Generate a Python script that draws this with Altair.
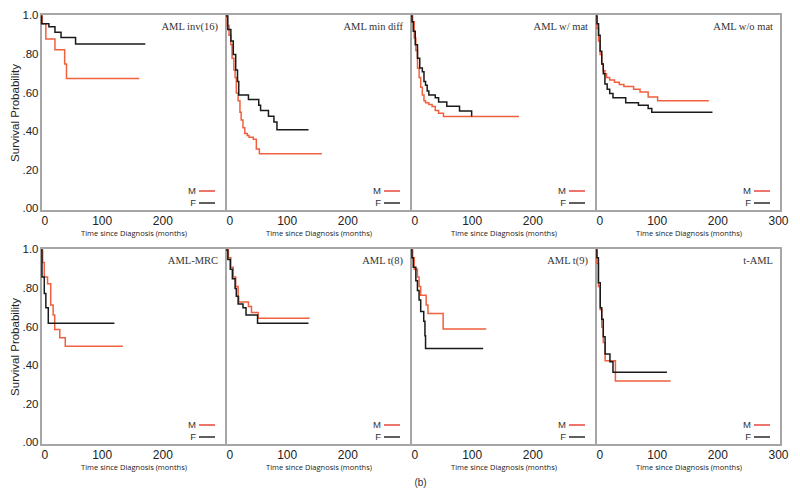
import altair as alt
import pandas as pd

# ---------------- data ----------------
titles = ["AML inv(16)", "AML min diff", "AML w/ mat", "AML w/o mat",
          "AML-MRC", "AML t(8)", "AML t(9)", "t-AML"]

inv16_m_t = [0, 2, 8, 23, 39, 42, 162]
inv16_m_s = [1.0, 0.96, 0.88, 0.825, 0.75, 0.676, 0.676]
inv16_f_t = [0, 1, 13, 23, 33, 57, 172]
inv16_f_s = [1.0, 0.96, 0.944, 0.915, 0.888, 0.854, 0.854]

mindiff_m_t = [0, 2, 5, 8, 10, 13, 15, 17, 20, 23, 25, 28, 31, 35, 38, 45, 50, 55, 158]
mindiff_m_s = [1.0, 0.95, 0.90, 0.85, 0.78, 0.72, 0.68, 0.60, 0.56, 0.50, 0.46, 0.42,
               0.39, 0.38, 0.37, 0.36, 0.31, 0.285, 0.285]
mindiff_f_t = [0, 3, 8, 12, 16, 19, 21, 37, 54, 57, 70, 79, 84, 136]
mindiff_f_s = [1.0, 0.93, 0.87, 0.80, 0.72, 0.66, 0.59, 0.566, 0.537, 0.51, 0.48, 0.45, 0.41, 0.41]

wmat_m_t = [0, 2.7, 5.3, 8, 10.7, 13.4, 16, 18.7, 21.4, 24, 29.4, 34.8, 40, 45.5, 53.5, 178]
wmat_m_s = [1.0, 0.97, 0.885, 0.82, 0.73, 0.68, 0.63, 0.59, 0.56, 0.55, 0.54, 0.53, 0.51,
            0.495, 0.478, 0.478]
wmat_f_t = [0, 1.6, 3.7, 7, 10.7, 14.4, 18.7, 21.4, 24, 26.7, 29.4, 40, 45.5, 59, 80, 100]
wmat_f_s = [1.0, 0.97, 0.92, 0.85, 0.78, 0.73, 0.71, 0.66, 0.64, 0.61, 0.59, 0.576, 0.554,
            0.532, 0.507, 0.478]

womat_m_t = [0, 1.6, 4.2, 6.8, 9.5, 12, 14.7, 17.4, 22.6, 30.5, 38.4, 46, 62, 72.6, 86, 101.6, 186]
womat_m_s = [1.0, 0.935, 0.87, 0.80, 0.75, 0.715, 0.70, 0.68, 0.668, 0.656, 0.644, 0.634,
             0.62, 0.605, 0.58, 0.56, 0.56]
womat_f_t = [0, 1.6, 4.2, 6.8, 9.5, 12, 14.7, 18.4, 22.6, 28, 49, 70, 86, 92, 192]
womat_f_s = [1.0, 0.96, 0.90, 0.817, 0.75, 0.70, 0.647, 0.62, 0.597, 0.576, 0.55, 0.537,
             0.52, 0.50, 0.50]

mrc_m_t = [0, 2.7, 5.4, 10.8, 16, 20, 22.6, 31, 40, 135]
mrc_m_s = [1.0, 0.935, 0.86, 0.825, 0.714, 0.663, 0.587, 0.544, 0.50, 0.50]
mrc_f_t = [0, 1.6, 5.4, 8, 12, 121]
mrc_f_s = [1.0, 0.86, 0.774, 0.70, 0.62, 0.62]

t8_m_t = [0, 4, 8, 12, 16, 20, 21, 37, 42, 53, 138]
t8_m_s = [1.0, 0.96, 0.91, 0.86, 0.81, 0.757, 0.73, 0.706, 0.675, 0.646, 0.646]
t8_f_t = [0, 3, 7, 10.5, 15, 17, 20, 28, 33, 52, 136]
t8_f_s = [1.0, 0.95, 0.90, 0.85, 0.80, 0.76, 0.72, 0.70, 0.663, 0.62, 0.62]

t9_m_t = [0, 2.7, 5.3, 10.6, 13.3, 16, 25, 28, 53, 124]
t9_m_s = [1.0, 0.96, 0.90, 0.86, 0.81, 0.765, 0.714, 0.67, 0.59, 0.59]
t9_f_t = [0, 1.6, 3.7, 8, 10.6, 13.3, 16, 21, 23, 24, 119]
t9_f_s = [1.0, 0.96, 0.91, 0.84, 0.79, 0.74, 0.68, 0.63, 0.555, 0.488, 0.488]

taml_m_t = [0, 1.5, 4, 7, 9.5, 12, 15, 32, 123]
taml_m_s = [1.0, 0.93, 0.81, 0.69, 0.60, 0.52, 0.425, 0.32, 0.32]
taml_f_t = [0, 1.5, 4, 7, 9.5, 12, 15, 23, 28, 117]
taml_f_s = [1.0, 0.96, 0.83, 0.70, 0.64, 0.55, 0.46, 0.42, 0.366, 0.366]

series = [
    (inv16_m_t, inv16_m_s, inv16_f_t, inv16_f_s),
    (mindiff_m_t, mindiff_m_s, mindiff_f_t, mindiff_f_s),
    (wmat_m_t, wmat_m_s, wmat_f_t, wmat_f_s),
    (womat_m_t, womat_m_s, womat_f_t, womat_f_s),
    (mrc_m_t, mrc_m_s, mrc_f_t, mrc_f_s),
    (t8_m_t, t8_m_s, t8_f_t, t8_f_s),
    (t9_m_t, t9_m_s, t9_f_t, t9_f_s),
    (taml_m_t, taml_m_s, taml_f_t, taml_f_s),
]

sexes = ["M", "F"]
x_ticks_inner = [0, 100, 200]
x_ticks_last = [0, 100, 200, 300]
y_ticks = [0, 0.2, 0.4, 0.6, 0.8, 1.0]

# ---------------- styling ----------------
W, H = 185, 197
RED = "#f0603f"
RED_LEG = "#e63a2c"
BLACK = "#1a1a1a"
BORDER = "#a6a6a6"


def panel(idx):
    title = titles[idx]
    m_t, m_s, f_t, f_s = series[idx]
    df = pd.DataFrame({
        "t": list(m_t) + list(f_t),
        "s": list(m_s) + list(f_s),
        "sex": ["M"] * len(m_t) + ["F"] * len(f_t),
    })
    col = idx % 4
    show_y = col == 0
    xvals = x_ticks_last if col == 3 else x_ticks_inner

    x = alt.X("t:Q", scale=alt.Scale(domain=[0, 305], nice=False, zero=False),
              axis=alt.Axis(values=xvals, title="Time since Diagnosis (months)",
                            labelFontSize=12, labelPadding=4, titleFontSize=7.5,
                            titleFont="Open Sans", titleFontWeight="normal",
                            titlePadding=3, titleColor="#222"))
    if show_y:
        y = alt.Y("s:Q", scale=alt.Scale(domain=[-0.012, 1.01], nice=False, zero=False),
                  axis=alt.Axis(values=y_ticks, title="Survival Probability",
                                labelExpr="datum.value == 1 ? '1.0' : replace(format(datum.value, '.2f'), '0.', '.')",
                                labelFontSize=11.5, labelPadding=3, titleFontSize=11.5,
                                titleFontWeight="normal", titlePadding=2, titleColor="#222"))
    else:
        y = alt.Y("s:Q", scale=alt.Scale(domain=[-0.012, 1.01], nice=False, zero=False),
                  axis=None)

    lines = alt.Chart(df).mark_line(interpolate="step-after", strokeWidth=1.5).encode(
        x=x, y=y,
        color=alt.Color("sex:N", scale=alt.Scale(domain=sexes, range=[RED, BLACK]), legend=None),
        detail="sex:N",
    )

    tdf = pd.DataFrame({"label": [title]})
    ttl = alt.Chart(tdf).mark_text(align="right", baseline="middle", font="Liberation Serif",
                                   fontSize=10.5, color="#333").encode(
        text="label:N", x=alt.value(W - 8), y=alt.value(13))

    ldf = pd.DataFrame({"sex": sexes})
    m_txt = alt.Chart(ldf).transform_filter("datum.sex == 'M'").mark_text(
        align="right", baseline="middle", fontSize=9.5, font="Liberation Sans", color="#333").encode(
        text="sex:N", x=alt.value(W - 30), y=alt.value(H - 20))
    f_txt = alt.Chart(ldf).transform_filter("datum.sex == 'F'").mark_text(
        align="right", baseline="middle", fontSize=9.5, font="Liberation Sans", color="#333").encode(
        text="sex:N", x=alt.value(W - 30), y=alt.value(H - 8))
    m_rule = alt.Chart(ldf).transform_filter("datum.sex == 'M'").mark_rule(
        color=RED_LEG, strokeWidth=1.4).encode(
        x=alt.value(W - 27), x2=alt.value(W - 11), y=alt.value(H - 20))
    f_rule = alt.Chart(ldf).transform_filter("datum.sex == 'F'").mark_rule(
        color=BLACK, strokeWidth=1.4).encode(
        x=alt.value(W - 27), x2=alt.value(W - 11), y=alt.value(H - 8))

    return alt.layer(lines, ttl, m_txt, f_txt, m_rule, f_rule).properties(width=W, height=H)


row1 = alt.hconcat(*[panel(i) for i in range(4)], spacing=0, bounds="flush")
row2 = alt.hconcat(*[panel(i) for i in range(4, 8)], spacing=0, bounds="flush")

chart = alt.vconcat(row1, row2, spacing=4).properties(
    padding=0,
    title=alt.TitleParams("(b)", orient="bottom", anchor="middle", fontSize=10,
                          font="Liberation Sans", fontWeight="normal", color="#333",
                          dx=22, offset=6),
).configure_view(
    stroke=BORDER, strokeWidth=2
).configure_axis(
    domain=False, ticks=False, grid=False,
    labelFont="Liberation Sans", labelColor="#222", titleFont="Liberation Sans"
)

chart.save("out.html", embed_options={"renderer": "svg", "actions": False})
